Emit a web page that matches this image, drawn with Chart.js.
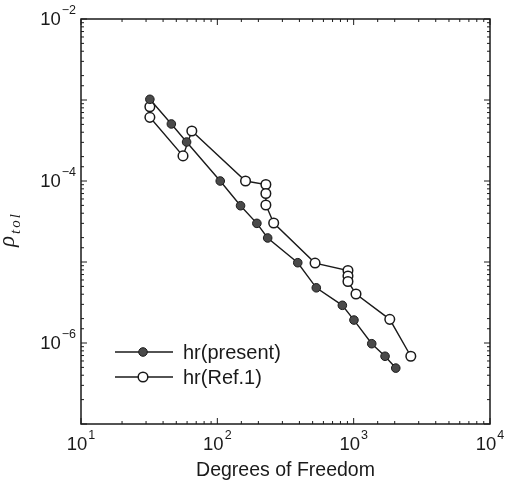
<!DOCTYPE html>
<html lang="en">
<head>
<meta charset="UTF-8">
<title>rho tol vs Degrees of Freedom</title>
<style>
    body {
        margin: 0;
        background: #fff;
    }
    #wrap {
        width: 506px;
        height: 496px;
    }
</style>
</head>
<body>
<div id="wrap">
    <canvas id="chart" width="506" height="496"></canvas>
</div>
<script src="https://cdn.jsdelivr.net/npm/chart.js"></script>
<script>
    // hr(present) - filled circles
    const presentX = [32, 46, 59.5, 105, 148, 195, 234, 389, 532, 826, 1005, 1357, 1699, 2036];
    const presentY = [1.02e-3, 5.06e-4, 3.03e-4, 1.0e-4, 4.95e-5, 3.0e-5, 1.98e-5, 9.8e-6, 4.8e-6, 2.92e-6, 1.92e-6, 9.8e-7, 6.86e-7, 4.9e-7];

    // hr(Ref.1) - open circles
    const refX = [32, 32, 56, 65, 161, 227, 227, 227, 259, 521, 908, 908, 908, 1040, 1840, 2625];
    const refY = [8.26e-4, 6.11e-4, 2.04e-4, 4.14e-4, 1.0e-4, 9.06e-5, 7.01e-5, 5.06e-5, 3.03e-5, 9.7e-6, 7.85e-6, 6.71e-6, 5.74e-6, 4.03e-6, 1.96e-6, 6.86e-7];

    const seriesNames = ['hr(present)', 'hr(Ref.1)'];

    // labelled decades (exponents of 10)
    const xTickExps = [1, 2, 3, 4];
    const yTickExps = [-2, -4, -6];

    const xTitle = 'Degrees of Freedom';

    const toPoints = (xs, ys) => xs.map((x, i) => ({ x: x, y: ys[i] }));

    const ink = '#1a1a1a';
    const font = '"Liberation Sans", Arial, sans-serif';

    // frame, inward ticks, labels, legend
    const decorPlugin = {
        id: 'decor',
        afterDraw(chart) {
            const ctx = chart.ctx;
            const a = chart.chartArea;
            const xs = chart.scales.x;
            const ys = chart.scales.y;
            ctx.save();
            ctx.strokeStyle = ink;
            ctx.fillStyle = ink;

            // frame
            ctx.lineWidth = 1.5;
            ctx.strokeRect(a.left, a.top, a.right - a.left, a.bottom - a.top);

            // ticks
            ctx.lineWidth = 1;
            const isMajor = v => Math.abs(Math.log10(v) - Math.round(Math.log10(v))) < 1e-6;
            xs.ticks.forEach(t => {
                const px = xs.getPixelForValue(t.value);
                if (px < a.left - 0.5 || px > a.right + 0.5) return;
                const len = isMajor(t.value) ? 6 : 3;
                ctx.beginPath();
                ctx.moveTo(px, a.bottom);
                ctx.lineTo(px, a.bottom - len);
                ctx.moveTo(px, a.top);
                ctx.lineTo(px, a.top + len);
                ctx.stroke();
            });
            ys.ticks.forEach(t => {
                const py = ys.getPixelForValue(t.value);
                if (py < a.top - 0.5 || py > a.bottom + 0.5) return;
                const len = isMajor(t.value) ? 6 : 3;
                ctx.beginPath();
                ctx.moveTo(a.left, py);
                ctx.lineTo(a.left + len, py);
                ctx.moveTo(a.right, py);
                ctx.lineTo(a.right - len, py);
                ctx.stroke();
            });

            // tick labels: 10 with superscript exponent
            const baseFont = '18.5px ' + font;
            const supFont = '12.5px ' + font;
            const expText = e => String(e).replace('-', '\u2212');
            const powerWidth = e => {
                ctx.font = baseFont;
                const w1 = ctx.measureText('10').width;
                ctx.font = supFont;
                return [w1, ctx.measureText(expText(e)).width];
            };
            const drawPower = (e, x, y) => {
                const [w1] = powerWidth(e);
                ctx.textBaseline = 'middle';
                ctx.textAlign = 'left';
                ctx.font = baseFont;
                ctx.fillText('10', x, y);
                ctx.font = supFont;
                ctx.fillText(expText(e), x + w1 + 1, y - 9);
            };
            xTickExps.forEach(e => {
                const px = xs.getPixelForValue(Math.pow(10, e));
                const [w1, w2] = powerWidth(e);
                drawPower(e, px - (w1 + w2 + 1) / 2, a.bottom + 21);
            });
            yTickExps.forEach(e => {
                const py = ys.getPixelForValue(Math.pow(10, e));
                const [w1, w2] = powerWidth(e);
                drawPower(e, a.left - 5 - (w1 + w2 + 1), py + 1);
            });

            // x title
            ctx.font = '19.5px ' + font;
            ctx.textAlign = 'center';
            ctx.textBaseline = 'middle';
            ctx.fillText(xTitle, (a.left + a.right) / 2, 471);

            // y title: rho_tol, rotated
            ctx.save();
            ctx.translate(14, 247);
            ctx.rotate(-Math.PI / 2);
            ctx.textAlign = 'left';
            ctx.textBaseline = 'alphabetic';
            ctx.font = 'italic 23px "Liberation Serif", "Times New Roman", serif';
            ctx.fillText('\u03c1', 0, 0);
            const rw = ctx.measureText('\u03c1').width;
            ctx.font = 'italic 15px "Liberation Serif", "Times New Roman", serif';
            ctx.letterSpacing = '2px';
            ctx.fillText('tol', rw + 2, 6);
            ctx.restore();

            // legend
            const rows = [352, 377];
            chart.data.datasets.forEach((ds, i) => {
                const y = rows[i];
                ctx.lineWidth = ds.borderWidth;
                ctx.strokeStyle = ds.borderColor;
                ctx.beginPath();
                ctx.moveTo(115, y);
                ctx.lineTo(173, y);
                ctx.stroke();
                ctx.beginPath();
                ctx.arc(143, y, ds.pointRadius, 0, Math.PI * 2);
                ctx.fillStyle = ds.pointBackgroundColor;
                ctx.fill();
                ctx.lineWidth = ds.pointBorderWidth;
                ctx.strokeStyle = ds.pointBorderColor;
                ctx.stroke();
                ctx.fillStyle = ink;
                ctx.font = '20px ' + font;
                ctx.textAlign = 'left';
                ctx.textBaseline = 'middle';
                ctx.fillText(ds.label, 183, y + 1);
            });

            ctx.restore();
        }
    };

    const axisBase = {
        type: 'logarithmic',
        ticks: { display: false },
        grid: { display: false, drawTicks: false },
        border: { display: false }
    };

    new Chart(document.getElementById('chart').getContext('2d'), {
        type: 'scatter',
        data: {
            datasets: [{
                label: seriesNames[0],
                data: toPoints(presentX, presentY),
                showLine: true,
                borderColor: ink,
                borderWidth: 1.4,
                pointRadius: 4.3,
                pointBackgroundColor: '#4a4a4a',
                pointBorderColor: ink,
                pointBorderWidth: 1
            }, {
                label: seriesNames[1],
                data: toPoints(refX, refY),
                showLine: true,
                borderColor: ink,
                borderWidth: 1.4,
                pointRadius: 4.8,
                pointBackgroundColor: '#ffffff',
                pointBorderColor: ink,
                pointBorderWidth: 1.5
            }]
        },
        options: {
            responsive: false,
            animation: false,
            layout: { padding: { left: 81, top: 19, right: 16, bottom: 72 } },
            scales: {
                x: Object.assign({}, axisBase, { min: 10, max: 10000 }),
                y: Object.assign({}, axisBase, { min: 1e-7, max: 1e-2 })
            },
            plugins: {
                legend: { display: false },
                tooltip: { enabled: false }
            }
        },
        plugins: [decorPlugin]
    });
</script>
</body>
</html>
